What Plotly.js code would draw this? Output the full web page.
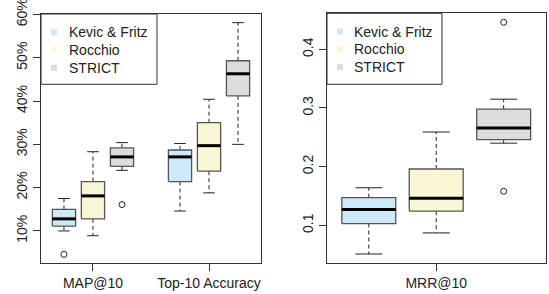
<!DOCTYPE html>
<html>
<head>
<meta charset="utf-8">
<script src="https://cdn.plot.ly/plotly-3.0.1.min.js"></script>
<style>html,body{margin:0;padding:0;background:#fff;}#chart{width:549px;height:294px;}</style>
</head>
<body>
<div id="chart"></div>
<script>
// ---- Data ----
const seriesNames = ["Kevic & Fritz", "Rocchio", "STRICT"];
const seriesColors = ["#cdeaf9", "#faf7d4", "#dcdcda"];

const leftCategories = ["MAP@10", "Top-10 Accuracy"];
// per series: [MAP@10, Top-10 Accuracy] values in percent
const leftLower  = [[10.0, 14.6], [8.9, 18.8], [24.0, 30.0]];
const leftQ1     = [[11.1, 21.4], [12.8, 23.8], [24.9, 41.2]];
const leftMedian = [[12.8, 27.1], [18.1, 29.7], [27.1, 46.3]];
const leftQ3     = [[15.0, 28.7], [21.4, 35.0], [29.2, 49.3]];
const leftUpper  = [[17.5, 30.2], [28.3, 40.4], [30.4, 58.1]];
const leftOutliers = [[[4.6], []], [[], []], [[16.1], []]];
const leftTicks = [10, 20, 30, 40, 50, 60];

const rightCategories = ["MRR@10"];
const rightLower  = [[0.051], [0.087], [0.240]];
const rightQ1     = [[0.103], [0.124], [0.246]];
const rightMedian = [[0.127], [0.146], [0.266]];
const rightQ3     = [[0.147], [0.196], [0.298]];
const rightUpper  = [[0.164], [0.259], [0.315]];
const rightOutliers = [[[]], [[]], [[0.446, 0.158]]];
const rightTicks = [0.1, 0.2, 0.3, 0.4];

// ---- Build traces ----
const BOXW = 0.2, OFFSET = 0.25, CAPW = 0.1;
const traces = [];
function addPanel(cats, lo, q1, med, q3, hi, outl, xa, ya) {
  seriesNames.forEach((name, s) => {
    const off = (s - 1) * OFFSET;
    const bx = [], by = [], mx = [], my = [], wx = [], wy = [], cx = [], cy = [], ox = [], oy = [];
    cats.forEach((c, g) => {
      const p = g + 1 + off;
      const l = p - BOXW / 2, r = p + BOXW / 2;
      bx.push(l, r, r, l, l, null); by.push(q1[s][g], q1[s][g], q3[s][g], q3[s][g], q1[s][g], null);
      mx.push(l, r, null); my.push(med[s][g], med[s][g], null);
      wx.push(p, p, null, p, p, null); wy.push(q3[s][g], hi[s][g], null, q1[s][g], lo[s][g], null);
      cx.push(p - CAPW / 2, p + CAPW / 2, null, p - CAPW / 2, p + CAPW / 2, null);
      cy.push(hi[s][g], hi[s][g], null, lo[s][g], lo[s][g], null);
      outl[s][g].forEach(v => { ox.push(p); oy.push(v); });
    });
    const common = {xaxis: xa, yaxis: ya, showlegend: false, hoverinfo: 'skip', type: 'scatter'};
    traces.push(Object.assign({x: wx, y: wy, mode: 'lines', line: {color: '#222', width: 1, dash: '4px,3px'}}, common));
    traces.push(Object.assign({x: cx, y: cy, mode: 'lines', line: {color: '#222', width: 1}}, common));
    traces.push(Object.assign({x: bx, y: by, mode: 'lines', fill: 'toself', fillcolor: seriesColors[s], line: {color: '#555', width: 1.3}, name: name}, common));
    traces.push(Object.assign({x: mx, y: my, mode: 'lines', line: {color: '#000', width: 3}}, common));
    if (ox.length) traces.push(Object.assign({x: ox, y: oy, mode: 'markers', marker: {symbol: 'circle-open', size: 6, color: '#222', line: {width: 1}}}, common));
  });
}
addPanel(leftCategories, leftLower, leftQ1, leftMedian, leftQ3, leftUpper, leftOutliers, 'x', 'y');
addPanel(rightCategories, rightLower, rightQ1, rightMedian, rightQ3, rightUpper, rightOutliers, 'x2', 'y2');

// ---- Layout ----
const W = 549, H = 294;
const px = v => v / W, py = v => 1 - v / H;
const axisCommon = {showline: true, mirror: true, linecolor: '#333', linewidth: 1, showgrid: false, zeroline: false,
  ticks: 'outside', ticklen: 7, tickcolor: '#333', tickfont: {size: 14, color: '#222'}, fixedrange: true,
  ticklabeloverflow: 'allow'};

const shapes = [], annotations = [];
function addLegend(left, top, width, height, sqX, textX) {
  shapes.push({type: 'rect', xref: 'paper', yref: 'paper', x0: px(left), x1: px(left + width), y0: py(top + height), y1: py(top),
    line: {color: '#333', width: 1}, fillcolor: '#fff', layer: 'above'});
  seriesNames.forEach((name, s) => {
    const yc = top + 18.3 + s * 17.7;
    shapes.push({type: 'rect', xref: 'paper', yref: 'paper', x0: px(sqX - 3), x1: px(sqX + 3), y0: py(yc + 3), y1: py(yc - 3),
      line: {width: 0}, fillcolor: seriesColors[s], layer: 'above'});
    annotations.push({xref: 'paper', yref: 'paper', x: px(textX), y: py(yc), text: name, showarrow: false,
      xanchor: 'left', yanchor: 'middle', font: {size: 14, color: '#222'}});
  });
}
addLegend(41, 14, 116, 70.3, 54, 67);
addLegend(327, 13.3, 115, 71, 340, 352);

const layout = {
  width: W, height: H, margin: {l: 0, r: 0, t: 0, b: 0},
  paper_bgcolor: '#fff', plot_bgcolor: '#fff', showlegend: false,
  font: {family: 'Liberation Sans, Arial, sans-serif', size: 14, color: '#222'},
  xaxis: Object.assign({}, axisCommon, {domain: [px(41), px(261)], range: [0.552, 2.448], tickvals: [1, 2], ticktext: leftCategories, anchor: 'y'}),
  yaxis: Object.assign({}, axisCommon, {domain: [py(263), py(14)], range: [2.6, 60.1], tickvals: leftTicks, ticktext: leftTicks.map(v => v + '%'), tickangle: -90, anchor: 'x'}),
  xaxis2: Object.assign({}, axisCommon, {domain: [px(327), px(546)], range: [0.595, 1.407], tickvals: [1], ticktext: rightCategories, anchor: 'y2'}),
  yaxis2: Object.assign({}, axisCommon, {domain: [py(263.3), py(13.3)], range: [0.0352, 0.4614], tickvals: rightTicks, ticktext: rightTicks.map(v => v.toFixed(1)), tickangle: -90, anchor: 'x2'}),
  shapes: shapes, annotations: annotations
};
Plotly.newPlot('chart', traces, layout, {staticPlot: true, displayModeBar: false});
</script>
</body>
</html>
